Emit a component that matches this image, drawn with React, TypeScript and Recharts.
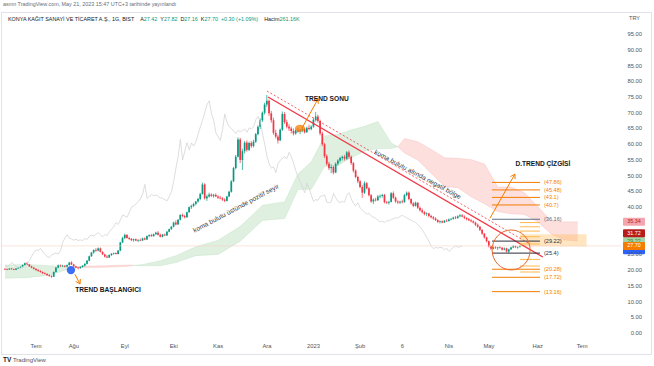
import React from 'react';
import { ComposedChart, Bar, Line, Area, XAxis, YAxis, ReferenceLine, ReferenceDot, ReferenceArea } from 'recharts';

// KONYA daily bars: open high low close
const OHLC = `
20.4 20.6 20.1 20.3
20.3 20.5 20.0 20.2
20.2 20.6 20.1 20.5
20.5 20.7 20.2 20.3
20.3 20.5 20.0 20.1
20.1 20.6 20.0 20.5
20.5 21.0 20.4 20.8
20.8 21.2 20.6 21.0
21.0 21.8 20.9 21.6
21.6 22.4 21.4 22.2
22.2 22.6 21.6 21.8
21.8 22.0 21.0 21.2
21.2 21.4 20.6 20.8
20.8 21.0 20.2 20.4
20.4 20.6 19.8 20.0
20.0 20.3 19.5 19.7
19.7 20.0 19.2 19.4
19.4 19.6 18.8 19.0
19.0 19.3 18.6 18.8
18.8 19.0 18.2 18.4
18.4 18.7 17.9 18.1
18.1 18.4 17.6 17.9
17.9 19.6 17.8 19.4
19.4 21.0 19.2 20.8
20.8 21.8 20.6 21.5
21.5 21.8 21.0 21.3
21.3 21.7 21.0 21.4
21.4 21.6 20.9 21.1
21.1 21.8 21.0 21.6
21.6 22.6 21.4 22.4
22.4 22.8 21.6 21.8
21.8 22.0 21.0 21.2
21.2 21.4 20.6 20.8
20.8 21.0 20.3 20.6
20.6 21.2 20.5 21.0
21.0 21.6 20.8 21.4
21.4 22.2 21.2 22.0
22.0 23.2 21.8 23.0
23.0 24.6 22.8 24.4
24.4 25.8 24.2 25.6
25.6 26.6 25.2 26.4
26.4 27.0 25.8 26.2
26.2 27.2 26.0 26.9
26.9 27.2 25.6 25.8
25.8 26.0 24.8 25.0
25.0 25.2 24.0 24.3
24.3 24.8 23.8 24.0
24.0 25.0 23.9 24.8
24.8 25.4 24.5 25.2
25.2 25.6 24.9 25.4
25.4 25.6 25.0 25.1
25.1 26.4 25.0 26.2
26.2 29.0 26.0 28.8
28.8 30.6 28.6 30.2
30.2 31.6 29.8 31.2
31.2 31.4 30.0 30.2
30.2 30.6 29.6 29.9
29.9 30.2 29.2 29.5
29.5 30.0 29.0 29.8
29.8 30.1 29.2 29.4
29.4 29.8 28.9 29.6
29.6 30.0 29.2 29.4
29.4 30.3 29.3 30.1
30.1 30.4 29.5 29.7
29.7 31.0 29.6 30.8
30.8 31.4 30.4 31.1
31.1 31.5 30.6 30.8
30.8 31.6 30.6 31.4
31.4 32.2 31.2 31.9
31.9 32.4 31.0 31.2
31.2 31.6 30.4 30.6
30.6 31.5 30.4 31.3
31.3 31.6 30.8 31.0
31.0 32.4 30.9 32.2
32.2 33.2 32.0 33.0
33.0 34.0 32.8 33.8
33.8 35.4 33.6 35.1
35.1 35.8 34.2 34.5
34.5 36.2 34.4 36.0
36.0 37.8 35.8 37.5
37.5 38.0 36.8 37.2
37.2 37.6 36.4 36.8
36.8 38.6 36.6 38.4
38.4 40.2 38.2 40.0
40.0 40.8 39.4 40.4
40.4 41.4 40.0 41.0
41.0 42.0 40.6 41.8
41.8 43.0 41.4 42.6
42.6 44.6 42.2 44.2
44.2 47.8 44.0 47.2
47.2 47.6 42.4 42.8
42.8 44.0 42.0 43.4
43.4 44.6 43.0 44.0
44.0 44.4 43.2 43.6
43.6 44.2 43.0 43.9
43.9 44.4 43.2 43.4
43.4 43.8 42.6 43.0
43.0 43.6 42.5 42.8
42.8 43.2 42.0 42.4
42.4 42.8 41.6 42.0
42.0 43.6 41.8 43.4
43.4 45.2 43.2 44.9
44.9 48.6 44.6 48.2
48.2 52.8 48.0 52.4
52.4 56.6 52.0 56.0
56.0 62.2 55.8 61.5
61.5 62.0 54.0 55.0
55.0 58.6 51.8 57.8
57.8 61.0 57.0 60.5
60.5 61.2 57.6 58.2
58.2 60.8 57.8 60.4
60.4 61.0 58.8 59.4
59.4 61.4 59.0 60.8
60.8 63.6 60.4 63.2
63.2 66.0 62.8 65.5
65.5 68.2 64.8 67.6
67.6 70.4 67.0 70.0
70.0 73.2 69.4 72.6
72.6 75.6 71.8 73.8
73.8 74.2 69.0 69.8
69.8 70.6 66.8 67.6
67.6 68.4 63.0 63.6
63.6 64.6 61.8 62.4
62.4 63.0 60.2 61.2
61.2 65.0 61.0 64.6
64.6 70.4 64.2 69.6
69.6 70.2 66.4 67.0
67.0 67.8 65.0 65.6
65.6 66.4 64.2 65.0
65.0 65.6 63.4 64.2
64.2 65.0 62.8 63.4
63.4 64.8 63.0 64.4
64.4 65.2 63.6 64.0
64.0 64.8 63.2 64.4
64.4 65.4 63.8 64.8
64.8 65.2 63.4 63.8
63.8 65.6 63.6 65.2
65.2 66.2 64.4 64.8
64.8 66.0 64.4 65.6
65.6 68.4 65.2 67.8
67.8 70.2 67.2 68.8
68.8 69.4 66.8 67.4
67.4 67.8 62.8 63.4
63.4 64.0 59.4 60.0
60.0 60.4 55.6 56.2
56.2 56.8 53.2 53.8
53.8 54.4 51.8 52.4
52.4 53.6 50.8 52.8
52.8 53.2 50.4 51.0
51.0 54.2 50.8 53.8
53.8 55.2 53.2 54.8
54.8 56.0 54.2 55.6
55.6 56.4 54.8 56.0
56.0 56.6 54.8 55.4
55.4 57.8 55.0 57.4
57.4 58.0 55.4 56.0
56.0 56.4 53.4 54.0
54.0 54.4 51.0 51.6
51.6 52.0 49.2 49.6
49.6 50.0 47.6 48.2
48.2 48.6 46.0 46.4
46.4 47.0 43.0 44.6
44.6 48.2 44.2 47.6
47.6 48.0 45.6 46.0
46.0 46.4 43.4 43.8
43.8 44.2 41.4 41.8
41.8 42.8 41.0 42.4
42.4 43.0 41.8 42.2
42.2 43.8 42.0 43.4
43.4 44.0 42.8 43.6
43.6 44.2 43.0 43.9
43.9 44.2 41.2 41.6
41.6 42.0 41.0 41.4
41.4 42.0 40.8 41.7
41.7 44.8 41.5 44.4
44.4 45.0 42.6 43.0
43.0 43.4 41.4 41.8
41.8 42.2 41.0 41.5
41.5 42.0 41.0 41.8
41.8 42.4 41.2 41.6
41.6 44.2 41.4 43.8
43.8 45.0 43.4 44.6
44.6 45.0 42.2 42.6
42.6 42.8 40.8 41.2
41.2 41.6 40.0 40.4
40.4 41.8 40.2 41.4
41.4 41.6 39.4 39.8
39.8 40.2 38.6 39.0
39.0 39.6 38.0 38.4
38.4 38.8 37.4 37.8
37.8 38.4 37.2 38.0
38.0 38.2 36.8 37.2
37.2 37.6 36.4 36.8
36.8 37.2 36.0 36.4
36.4 36.8 35.6 35.9
35.9 36.2 35.0 35.3
35.3 35.8 34.8 35.5
35.5 35.8 34.9 35.1
35.1 35.9 35.0 35.7
35.7 36.2 35.3 35.6
35.6 36.4 35.4 36.1
36.1 36.6 35.8 36.3
36.3 37.0 36.0 36.7
36.7 37.2 36.2 36.5
36.5 37.4 36.4 37.1
37.1 37.8 36.8 37.4
37.4 37.8 36.8 37.0
37.0 37.4 36.2 36.6
36.6 36.8 35.8 36.2
36.2 36.6 35.6 35.8
35.8 36.2 35.2 35.5
35.5 35.8 34.8 35.1
35.1 35.4 34.0 34.4
34.4 34.8 33.4 33.8
33.8 34.0 32.4 32.8
32.8 33.0 31.2 31.6
31.6 31.8 30.0 30.4
30.4 30.6 28.8 29.2
29.2 29.4 27.2 27.6
27.6 27.8 26.4 26.8
26.8 27.6 26.6 27.2
27.2 27.6 26.8 27.0
27.0 27.4 26.4 27.2
27.2 27.6 26.9 27.1
27.1 27.3 26.2 26.5
26.5 27.2 26.3 26.9
26.9 27.1 25.6 25.9
25.9 26.8 25.4 26.6
26.6 27.4 26.4 27.2
27.2 27.9 27.0 27.6
27.6 27.8 27.0 27.3
27.3 27.5 26.8 27.4
27.42 27.82 27.16 27.70
`;

// ichimoku cloud (already shifted 26 bars forward)
const cloudBars = [0, 10, 20, 28, 31, 34, 45, 55, 58, 62, 70, 77, 86, 96, 106, 116, 126, 132, 138, 144, 150, 156, 162, 168, 174, 177, 180, 186, 192, 198, 204, 210, 216, 222, 228, 234, 240, 246, 252, 258];
const leadA = [21.6, 21.8, 21.4, 21.0, 20.9, 20.8, 20.9, 21.2, 21.5, 21.8, 23.0, 24.6, 27.4, 29.5, 33.9, 40.6, 41.7, 50.6, 54.4, 62.6, 63.2, 64.5, 65.7, 67.2, 60.4, 59.2, 57.2, 55.0, 50.8, 46.6, 46.2, 43.3, 41.1, 38.6, 37.9, 37.7, 35.4, 31.5, 29.6, 29.22];
const leadB = [17.4, 17.6, 18.4, 20.2, 20.9, 21.2, 21.4, 21.6, 21.5, 21.4, 21.4, 22.4, 24.6, 25.0, 29.2, 35.8, 36.4, 45.6, 45.7, 53.0, 53.2, 55.7, 57.8, 58.6, 58.6, 59.2, 61.8, 60.8, 58.3, 55.7, 55.5, 55.1, 53.7, 46.4, 46.4, 44.6, 40.2, 35.7, 35.3, 35.34];

const monthTicks = [14, 31, 54, 76, 96, 118, 139, 160, 179, 200, 218, 240, 260];
const monthLabels = ['Tem', 'Ağu', 'Eyl', 'Eki', 'Kas', 'Ara', '2023', 'Şub', '6', 'Nis', 'May', 'Haz', 'Tem'];
const priceTicks = [0, 5, 10, 15, 20, 25, 40, 45, 50, 55, 60, 65, 70, 75, 80, 85, 90, 95];

// last values shown on the price scale (blue one is hidden under the close)
const badgeValues = [26.3, 29.22, 31.72, 35.34, 27.7];
const badgeFill = ['#2962ff', '#a5d6a7', '#b71c1c', '#f4a6ae', '#f57c00'];
const badgeText = ['', '#2e7d32', '#ffffff', '#b71c1c', '#ffffff'];

// fib / level tool on the right
const fibLong = [47.86, 45.48, 43.1, 40.7, 36.16, 29.22, 25.4, 20.28, 17.72, 13.16];
const fibLongColor = ['o', 'o', 'o', 'o', 'g', 'd', 'd', 'o', 'o', 'o'];
const fibShort = [35.1, 33.76, 32.4, 30.6, 28.3, 23.4, 21.3, 19.4];

const UP = '#089981';
const DOWN = '#f23645';
const ORANGE = '#f57c00';
const FONT = '"Liberation Sans", Arial, sans-serif';

const candles = OHLC.trim().split('\n').map((row, i) => {
  const [o, h, l, c] = row.trim().split(/\s+/).map(Number);
  return { i, o, h, l, c };
});

const lagging = candles.filter((d) => d.i >= 26).map((d) => ({ i: d.i - 26, v: d.c }));

const cloud = cloudBars.map((i, k) => {
  const a = leadA[k];
  const b = leadB[k];
  return { i, green: a >= b ? [b, a] : null, red: b >= a ? [a, b] : null };
});

const Candle = (props: any) => {
  const { x, y, width, height, payload } = props;
  if (!payload || height == null) return null;
  const { o, h, l, c } = payload;
  const color = c >= o ? UP : DOWN;
  const y0 = height < 0 ? y + height : y;
  const hh = Math.abs(height);
  const k = hh / (h - l);
  const cx = x + width / 2;
  const top = y0 + (h - Math.max(o, c)) * k;
  const bot = y0 + (h - Math.min(o, c)) * k;
  return (
    <g>
      <line x1={cx} x2={cx} y1={y0} y2={y0 + hh} stroke={color} strokeWidth={0.7} />
      <rect x={cx - 0.85} y={top} width={1.7} height={Math.max(0.7, bot - top)} fill={color} />
    </g>
  );
};

const arrow = (p: any) => {
  const { x1, y1, x2, y2 } = p;
  const ang = Math.atan2(y2 - y1, x2 - x1);
  const a1 = ang + Math.PI - 0.55;
  const a2 = ang + Math.PI + 0.55;
  const L = 5;
  return (
    <g>
      <line x1={x1} y1={y1} x2={x2} y2={y2} stroke={ORANGE} strokeWidth={1} />
      <polyline
        points={`${x2 + L * Math.cos(a1)},${y2 + L * Math.sin(a1)} ${x2},${y2} ${x2 + L * Math.cos(a2)},${y2 + L * Math.sin(a2)}`}
        fill="none"
        stroke={ORANGE}
        strokeWidth={1}
      />
    </g>
  );
};

const note = (txt: string, angle: number, bold: boolean, size: number) => (p: any) => (
  <text
    x={p.cx}
    y={p.cy}
    transform={`rotate(${angle} ${p.cx} ${p.cy})`}
    textAnchor="middle"
    dominantBaseline="central"
    fontFamily={FONT}
    fontSize={size}
    fontWeight={bold ? 700 : 400}
    fill={bold ? '#131722' : '#3a3d46'}
  >
    {txt}
  </text>
);

const fibLine = (label: string, color: string) => (p: any) => (
  <g>
    <line x1={p.x1} y1={p.y1} x2={p.x2} y2={p.y2} stroke={color} strokeWidth={1} />
    {label ? (
      <text x={p.x2 + 4} y={p.y2} dominantBaseline="central" fontFamily={FONT} fontSize={5.6} fill={color}>
        {label}
      </text>
    ) : null}
  </g>
);

const badge = (fill: string, color: string, value: number) => (p: any) => (
  <g>
    <rect x={p.cx + 2} y={p.cy - 4} width={22} height={8} fill={fill} rx={1} />
    {color ? (
      <text x={p.cx + 13} y={p.cy - 0.5} textAnchor="middle" dominantBaseline="central" fontFamily={FONT} fontSize={5.3} fill={color}>
        {value.toFixed(2)}
      </text>
    ) : null}
  </g>
);

const PriceTick = (props: any) => {
  const { x, y, payload } = props;
  return (
    <text x={x + 19} y={y} textAnchor="end" dominantBaseline="central" fontFamily={FONT} fontSize={5.8} fill="#50535e">
      {Number(payload.value).toFixed(2)}
    </text>
  );
};

const colorOf = (k: string) => (k === 'o' ? ORANGE : k === 'g' ? '#5d6f85' : '#2a2e39');

export default function App() {
  return (
    <div style={{ position: 'relative', width: 654, height: 366, background: '#fff', fontFamily: FONT, overflow: 'hidden' }}>
      <style>{'body{margin:0}'}</style>
      <div style={{ position: 'absolute', left: 3, top: 1, fontSize: 5.4, color: '#6a6d78', whiteSpace: 'nowrap' }}>
        asmn TradingView.com, May 21, 2023 15:47 UTC+3 tarihinde yayınlandı
      </div>
      <div style={{ position: 'absolute', left: 1, top: 12, width: 651, height: 343, border: '1px solid #e0e3eb', boxSizing: 'border-box' }} />
      <div style={{ position: 'absolute', left: 0, top: 0 }}>
        <ComposedChart width={654} height={366} data={candles} margin={{ top: 12, right: 3, bottom: 12, left: 1 }}>
          <XAxis
            dataKey="i"
            type="number"
            domain={[-1.8, 277.5]}
            allowDataOverflow
            ticks={monthTicks}
            interval={0}
            tickFormatter={(v: number) => monthLabels[monthTicks.indexOf(v)] ?? ''}
            tick={{ fontSize: 5.8, fill: '#50535e', fontFamily: FONT }}
            tickLine={false}
            axisLine={false}
            tickSize={0}
            tickMargin={4}
            height={14}
          />
          <YAxis
            orientation="right"
            type="number"
            domain={[-2.2, 102]}
            allowDataOverflow
            ticks={priceTicks}
            interval={0}
            tick={<PriceTick />}
            tickLine={false}
            axisLine={false}
            tickSize={0}
            width={30}
          />
          <Area data={cloud} dataKey="green" type="linear" fill="#43a047" fillOpacity={0.17} stroke="#a5d6a7" strokeOpacity={0.5} strokeWidth={0.5} isAnimationActive={false} dot={false} activeDot={false} />
          <Area data={cloud} dataKey="red" type="linear" fill="#f44336" fillOpacity={0.17} stroke="#ef9a9a" strokeOpacity={0.5} strokeWidth={0.5} isAnimationActive={false} dot={false} activeDot={false} />
          <Line data={lagging} dataKey="v" type="linear" stroke="#d4d4d8" strokeWidth={0.8} dot={false} activeDot={false} isAnimationActive={false} />
          <ReferenceLine y={27.7} stroke="#f9d3c6" strokeWidth={0.6} />
          <ReferenceArea x1={232} x2={262} y1={27.5} y2={31.4} fill="#ffb74d" fillOpacity={0.35} stroke="none" />
          <Bar dataKey={(d: any) => [d.l, d.h]} shape={<Candle />} barSize={2} isAnimationActive={false} />

          <ReferenceLine segment={[{ x: 118.5, y: 75.0 }, { x: 242.3, y: 24.15 }]} stroke="#f23645" strokeWidth={1.3} />
          <ReferenceLine segment={[{ x: 118, y: 76.9 }, { x: 236.5, y: 28.3 }]} stroke="#f23645" strokeWidth={0.8} strokeDasharray="2 2" />

          {fibLong.map((v, k) => (
            <ReferenceLine
              key={'fl' + k}
              segment={[{ x: 219.4, y: v }, { x: 241, y: v }]}
              shape={fibLine(`(${v})`, colorOf(fibLongColor[k]))}
            />
          ))}
          {fibShort.map((v, k) => (
            <ReferenceLine key={'fs' + k} segment={[{ x: 232, y: v }, { x: 241, y: v }]} shape={fibLine('', '#ffb74d')} />
          ))}

          <ReferenceLine segment={[{ x: 133.8, y: 65.1 }, { x: 141, y: 74.4 }]} shape={arrow} />
          <ReferenceLine segment={[{ x: 31.5, y: 18.7 }, { x: 33.8, y: 15.6 }]} shape={arrow} />
          <ReferenceLine segment={[{ x: 218.5, y: 36.5 }, { x: 229.7, y: 50.5 }]} shape={arrow} />

          <ReferenceDot x={132.9} y={65.1} shape={(p: any) => <ellipse cx={p.cx} cy={p.cy} rx={5} ry={3.5} fill={ORANGE} fillOpacity={0.75} />} />
          <ReferenceDot x={29.7} y={20.0} shape={(p: any) => <circle cx={p.cx} cy={p.cy} r={4.2} fill="#3d6ef5" />} />
          <ReferenceDot x={228} y={26.4} shape={(p: any) => <ellipse cx={p.cx} cy={p.cy} rx={19} ry={20} fill="none" stroke="#e8682a" strokeWidth={1} />} />

          <ReferenceDot x={186} y={50.5} shape={note('koma bulutu altında negatif bölge', 28, false, 6.6)} />
          <ReferenceDot x={104} y={39.7} shape={note('koma bulutu üstünde pozitif seyir', -28, false, 6.6)} />
          <ReferenceDot x={145} y={74.4} shape={note('TREND SONU', 0, true, 6.6)} />
          <ReferenceDot x={46.4} y={14.0} shape={note('TREND BAŞLANGICI', 0, true, 6.6)} />
          <ReferenceDot x={242.3} y={54.0} shape={note('D.TREND ÇİZGİSİ', 0, true, 6.6)} />

          {badgeValues.map((v, k) => (
            <ReferenceDot key={'b' + k} x={277.5} y={v} shape={badge(badgeFill[k], badgeText[k], v)} />
          ))}
        </ComposedChart>
      </div>
      <div style={{ position: 'absolute', left: 8, top: 16, fontSize: 5.4, whiteSpace: 'nowrap', color: '#131722' }}>
        KONYA KAĞIT SANAYİ VE TİCARET A.Ş., 1G, BIST
        <span style={{ marginLeft: 6 }}>A</span><span style={{ color: UP }}>27.42</span>
        <span style={{ marginLeft: 3 }}>Y</span><span style={{ color: UP }}>27.82</span>
        <span style={{ marginLeft: 3 }}>D</span><span style={{ color: UP }}>27.16</span>
        <span style={{ marginLeft: 3 }}>K</span><span style={{ color: UP }}>27.70</span>
        <span style={{ marginLeft: 3, color: UP }}>+0.30 (+1.09%)</span>
        <span style={{ marginLeft: 6 }}>Hacim</span><span style={{ color: UP }}>261.16K</span>
      </div>
      <div style={{ position: 'absolute', left: 629, top: 15, fontSize: 5.6, color: '#50535e' }}>TRY</div>
      <div style={{ position: 'absolute', left: 3, top: 356, fontSize: 6, color: '#131722', whiteSpace: 'nowrap' }}>
        <b style={{ fontSize: 6.5 }}>TV</b> <span style={{ color: '#50535e' }}>TradingView</span>
      </div>
    </div>
  );
}
